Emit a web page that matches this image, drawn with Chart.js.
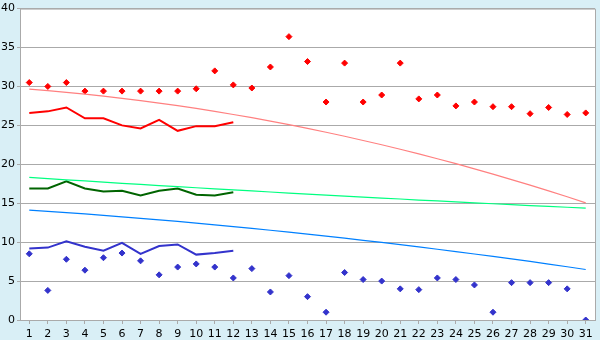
<!DOCTYPE html>
<html>
<head>
<meta charset="utf-8">
<script src="https://cdn.jsdelivr.net/npm/chart.js@4"></script>
<style>
  html, body { margin: 0; padding: 0; background: #d9eff6; }
  #wrap { width: 600px; height: 340px; }
</style>
</head>
<body>
<div id="wrap"><canvas id="chart"></canvas></div>
<script>
const days = ['1','2','3','4','5','6','7','8','9','10','11','12','13','14','15','16',
  '17','18','19','20','21','22','23','24','25','26','27','28','29','30','31'];
const yTicks = [0, 5, 10, 15, 20, 25, 30, 35, 40];

// daily highs / lows (scatter)
const highs = [30.5, 30.0, 30.5, 29.4, 29.4, 29.4, 29.4, 29.4, 29.4, 29.7, 32.0, 30.2, 29.8, 32.5, 36.4, 33.2,
  28.0, 33.0, 28.0, 28.9, 33.0, 28.4, 28.9, 27.5, 28.0, 27.4, 27.4, 26.5, 27.3, 26.4, 26.6];
const lows = [8.5, 3.8, 7.8, 6.4, 8.0, 8.6, 7.6, 5.8, 6.8, 7.2, 6.8, 5.4, 6.6, 3.6, 5.7, 3.0,
  1.0, 6.1, 5.2, 5.0, 4.0, 3.9, 5.4, 5.2, 4.5, 1.0, 4.8, 4.8, 4.8, 4.0, 0.0];

// first 12 days
const highLine = [26.6, 26.8, 27.3, 25.9, 25.9, 25.0, 24.6, 25.7, 24.3, 24.9, 24.9, 25.4];
const meanLine = [16.9, 16.9, 17.8, 16.9, 16.5, 16.6, 16.0, 16.6, 16.9, 16.1, 16.0, 16.4];
const lowLine = [9.2, 9.3, 10.1, 9.4, 8.9, 9.9, 8.5, 9.5, 9.7, 8.4, 8.6, 8.9];

// long-term trend curves
const highTrend = [29.66, 29.46, 29.25, 29.01, 28.76, 28.48, 28.18, 27.87, 27.53, 27.18, 26.80, 26.40, 25.99, 25.55,
  25.09, 24.62, 24.12, 23.60, 23.06, 22.51, 21.93, 21.33, 20.71, 20.08, 19.42, 18.74, 18.04, 17.32, 16.58, 15.83, 15.05];
const meanTrend = [18.31, 18.16, 18.01, 17.86, 17.71, 17.56, 17.42, 17.27, 17.13, 16.99, 16.85, 16.71, 16.58, 16.44,
  16.31, 16.17, 16.04, 15.92, 15.79, 15.66, 15.54, 15.41, 15.29, 15.17, 15.05, 14.93, 14.82, 14.70, 14.59, 14.48, 14.37];
const lowTrend = [14.12, 13.96, 13.79, 13.62, 13.44, 13.25, 13.06, 12.86, 12.66, 12.45, 12.23, 12.00, 11.77, 11.53,
  11.29, 11.04, 10.78, 10.52, 10.24, 9.96, 9.68, 9.39, 9.09, 8.79, 8.48, 8.17, 7.84, 7.52, 7.18, 6.84, 6.49];

const plotBg = {
  id: 'plotBg',
  beforeDraw(chart) {
    const { ctx, chartArea: a } = chart;
    ctx.save();
    ctx.fillStyle = '#d9eff6';
    ctx.fillRect(0, 0, chart.width, chart.height);
    ctx.fillStyle = '#ffffff';
    ctx.fillRect(a.left, a.top, a.right - a.left, a.bottom - a.top);
    ctx.restore();
  },
  afterDraw(chart) {
    const { ctx, chartArea: a } = chart;
    ctx.save();
    ctx.strokeStyle = '#aaaaaa';
    ctx.lineWidth = 1;
    ctx.beginPath();
    ctx.moveTo(a.left, a.top + 0.5);
    ctx.lineTo(a.right + 0.5, a.top + 0.5);
    ctx.lineTo(a.right + 0.5, a.bottom);
    ctx.stroke();
    ctx.restore();
  }
};

function lineSet(data, color, width) {
  return { data: data, borderColor: color, backgroundColor: color, borderWidth: width,
    pointRadius: 0, tension: 0, fill: false };
}
function dotSet(data, color) {
  return { data: data, showLine: false, pointStyle: 'rectRot', pointRadius: 3,
    pointBorderWidth: 1, borderColor: color, backgroundColor: color };
}

Chart.defaults.font.family = 'DejaVu Sans';
Chart.defaults.font.size = 11;
Chart.defaults.color = '#000000';

new Chart(document.getElementById('chart'), {
  type: 'line',
  data: {
    labels: days,
    datasets: [
      lineSet(highTrend, '#ff8080', 1.2),
      lineSet(meanTrend, '#00ff80', 1.2),
      lineSet(lowTrend, '#0080ff', 1.2),
      lineSet(highLine, '#ff0000', 2),
      lineSet(meanLine, '#006400', 2),
      lineSet(lowLine, '#3333cc', 2),
      dotSet(highs, '#ff0000'),
      dotSet(lows, '#3333cc')
    ]
  },
  options: {
    responsive: true,
    maintainAspectRatio: false,
    animation: false,
    layout: { padding: { top: 5, right: 5, left: 0, bottom: 0 } },
    plugins: { legend: { display: false }, tooltip: { enabled: false } },
    scales: {
      x: {
        offset: true,
        grid: { offset: false, drawOnChartArea: false, drawTicks: true, tickLength: 4, color: '#aaaaaa' },
        border: { color: '#aaaaaa' },
        ticks: { padding: 4, maxRotation: 0, autoSkip: false },
        afterFit(scale) { scale.height = 20; }
      },
      y: {
        min: 0,
        max: 40,
        afterBuildTicks(scale) { scale.ticks = yTicks.map(v => ({ value: v })); },
        grid: { color: '#aaaaaa', tickLength: 3 },
        border: { color: '#aaaaaa' },
        ticks: { padding: 2 },
        afterFit(scale) { scale.width = 20; }
      }
    }
  },
  plugins: [plotBg]
});
</script>
</body>
</html>
